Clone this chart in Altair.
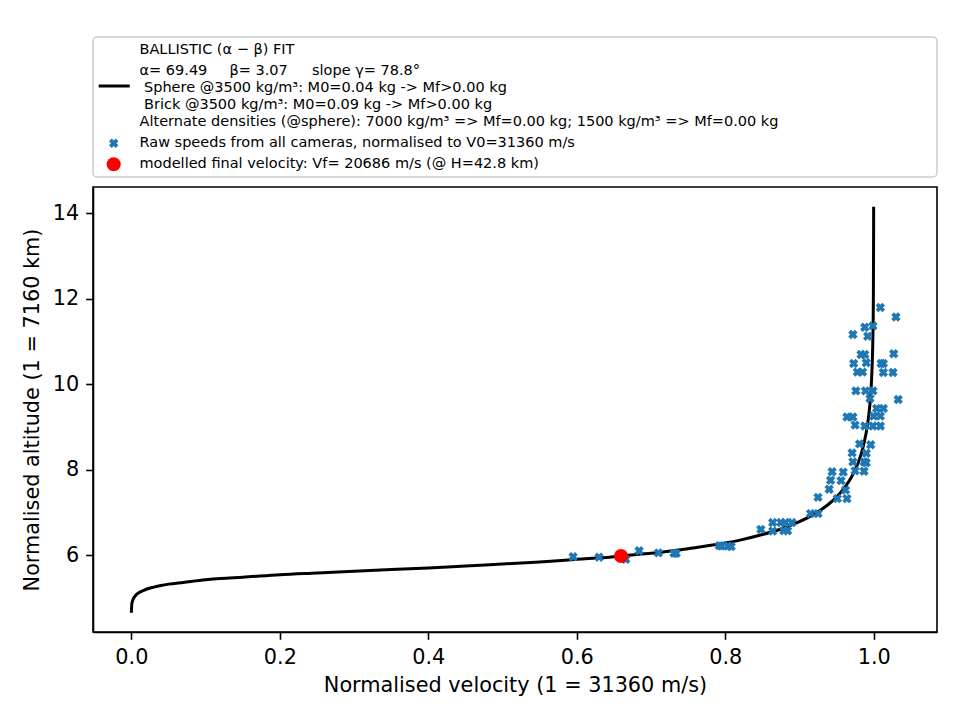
import altair as alt
import pandas as pd

# ---- data ----
curve_v = [0.0, 0.0001, 0.0005, 0.001, 0.002, 0.003, 0.005, 0.007, 0.01, 0.015, 0.02, 0.03,
           0.04, 0.05, 0.07, 0.1, 0.12, 0.15, 0.2, 0.25, 0.3, 0.35, 0.4, 0.45, 0.5, 0.55,
           0.6, 0.65, 0.66, 0.7, 0.75, 0.8, 0.82, 0.85, 0.875, 0.9, 0.915, 0.93, 0.94, 0.95,
           0.96, 0.97, 0.975, 0.98, 0.985, 0.99, 0.993, 0.996, 0.998, 0.999, 0.9995, 0.9999,
           0.99995]
curve_h = [4.65, 4.70, 4.83, 4.89, 4.95, 4.99, 5.04, 5.08, 5.12, 5.16, 5.20, 5.25,
           5.29, 5.32, 5.36, 5.42, 5.45, 5.48, 5.54, 5.58, 5.62, 5.66, 5.70, 5.745, 5.79, 5.84,
           5.90, 5.96, 5.98, 6.04, 6.15, 6.28, 6.35, 6.48, 6.61, 6.78, 6.91, 7.07, 7.20, 7.36,
           7.56, 7.82, 7.99, 8.20, 8.48, 8.87, 9.22, 9.76, 10.46, 11.15, 11.84, 13.45,
           14.15]

raw_v = [1.009, 1.030, 0.988, 0.999, 0.972, 0.992,
         0.983, 0.988, 1.027, 0.973, 0.990, 1.010, 1.013,
         0.978, 0.985, 1.013, 1.026,
         0.976, 0.989, 0.999, 1.033, 0.995,
         1.004, 1.013, 0.964, 0.972, 1.000, 1.009,
         0.975, 0.988, 0.999, 1.009,
         0.981, 0.996, 0.971, 0.990, 0.972, 0.987, 0.990,
         0.944, 0.959, 0.975, 0.987,
         0.942, 0.956, 0.940, 0.962, 0.925, 0.951, 0.964,
         0.915, 0.925, 0.864, 0.875, 0.881, 0.890, 0.848, 0.864, 0.879, 0.884,
         0.792, 0.795, 0.804, 0.808,
         0.731, 0.734, 0.710, 0.684, 0.666, 0.630, 0.595]
raw_h = [11.79, 11.57, 11.33, 11.36, 11.16, 11.12,
         10.69, 10.69, 10.71, 10.48, 10.50, 10.48, 10.48,
         10.28, 10.28, 10.27, 10.27,
         9.84, 9.84, 9.84, 9.64, 9.66,
         9.43, 9.43, 9.23, 9.23, 9.25, 9.25,
         9.04, 9.02, 9.02, 9.02,
         8.60, 8.58, 8.39, 8.38, 8.18, 8.18, 8.16,
         7.95, 7.94, 7.97, 7.96,
         7.75, 7.74, 7.54, 7.52, 7.35, 7.32, 7.32,
         6.97, 6.97, 6.76, 6.76, 6.76, 6.76, 6.60, 6.56, 6.57, 6.57,
         6.22, 6.21, 6.21, 6.20,
         6.04, 6.04, 6.05, 6.10, 5.90, 5.95, 5.96]

final_v = [0.6596]
final_h = [5.978]

x_ticks = [0.0, 0.2, 0.4, 0.6, 0.8, 1.0]
y_ticks = [6, 8, 10, 12, 14]

legend_lines = [
    "BALLISTIC (α − β) FIT",
    "α= 69.49",
    "β= 3.07",
    "slope γ= 78.8°",
    "Sphere @3500 kg/m³: M0=0.04 kg -> Mf>0.00 kg",
    "Brick @3500 kg/m³: M0=0.09 kg -> Mf>0.00 kg",
    "Alternate densities (@sphere): 7000 kg/m³ => Mf=0.00 kg; 1500 kg/m³ => Mf=0.00 kg",
    "Raw speeds from all cameras, normalised to V0=31360 m/s",
    "modelled final velocity: Vf= 20686 m/s (@ H=42.8 km)",
]

curve_df = pd.DataFrame({"v": curve_v, "h": curve_h, "i": list(range(len(curve_v)))})
raw_df = pd.DataFrame({"v": raw_v, "h": raw_h})
final_df = pd.DataFrame({"v": final_v, "h": final_h})

FONT = "DejaVu Sans"
BLUE = "#1f77b4"
FS = 20.8
LFS = 14.5

xscale = alt.Scale(domain=[-0.0517, 1.0853], nice=False, zero=False)
yscale = alt.Scale(domain=[4.20, 14.61], nice=False, zero=False)

common_axis = dict(grid=False, labelFont=FONT, labelFontSize=FS, labelColor="black",
                   tickColor="black", domainColor="black", domainWidth=1.6, tickWidth=1.6,
                   tickSize=7.3, titleFont=FONT, titleFontSize=FS, titleFontWeight="normal",
                   titleColor="black", labelFlush=False)
xaxis = alt.Axis(values=x_ticks, format=".1f", title="Normalised velocity (1 = 31360 m/s)",
                 labelPadding=8, titlePadding=8, **common_axis)
yaxis = alt.Axis(values=y_ticks, format="d", title="Normalised altitude (1 = 7160 km)",
                 labelPadding=7, titlePadding=10, **common_axis)

line = alt.Chart(curve_df).mark_line(color="black", strokeWidth=3, clip=True,
                                     interpolate="monotone").encode(
    x=alt.X("v:Q", scale=xscale, axis=xaxis),
    y=alt.Y("h:Q", scale=yscale, axis=yaxis),
    order="i:Q",
)

raw = alt.Chart(raw_df).mark_point(shape="cross", angle=45, filled=True, size=90, color=BLUE,
                                   opacity=1, strokeWidth=0).encode(
    x=alt.X("v:Q", scale=xscale), y=alt.Y("h:Q", scale=yscale))

final = alt.Chart(final_df).mark_point(shape="circle", filled=True, size=196, color="red",
                                       opacity=1, strokeWidth=0).encode(
    x=alt.X("v:Q", scale=xscale), y=alt.Y("h:Q", scale=yscale))

one = alt.Data(values=[{"a": 1}])

# legend (placed above the plot area, in pixels relative to the plot's top-left)
box = alt.Chart(one).mark_rect(fill="white", stroke="#cccccc", strokeWidth=1.5, cornerRadius=4,
                               clip=False).encode(
    x=alt.value(0), x2=alt.value(844), y=alt.value(-150), y2=alt.value(-10))


def txt(s, x, y):
    return alt.Chart(one).mark_text(text=s, align="left", baseline="middle", font=FONT,
                                    fontSize=LFS, color="black", clip=False).encode(
        x=alt.value(x), y=alt.value(y))


texts = [
    txt(legend_lines[0], 46.5, -137),
    txt(legend_lines[1], 46.5, -116.5),
    txt(legend_lines[2], 136.5, -116.5),
    txt(legend_lines[3], 219, -116.5),
    txt(legend_lines[4], 51, -98.7),
    txt(legend_lines[5], 51, -82),
    txt(legend_lines[6], 46.5, -64.7),
    txt(legend_lines[7], 46.5, -43.7),
    txt(legend_lines[8], 46.5, -22.7),
]

leg_line = alt.Chart(one).mark_rule(color="black", strokeWidth=3, clip=False).encode(
    x=alt.value(5.7), x2=alt.value(36.7), y=alt.value(-101))
leg_x = alt.Chart(one).mark_point(shape="cross", angle=45, filled=True, size=90, color=BLUE,
                                  opacity=1, strokeWidth=0, clip=False).encode(
    x=alt.value(20.7), y=alt.value(-43.7))
leg_dot = alt.Chart(one).mark_point(shape="circle", filled=True, size=196, color="red",
                                    opacity=1, strokeWidth=0, clip=False).encode(
    x=alt.value(20.7), y=alt.value(-22.7))

chart = alt.layer(line, raw, final, box, *texts, leg_line, leg_x, leg_dot).properties(
    width=844, height=445,
    autosize=alt.AutoSizeParams(type="none"),
    padding={"left": 93, "top": 187, "right": 23, "bottom": 88},
    background="white",
).configure_view(stroke="black", strokeWidth=1.6)

chart.save("out.html", embed_options={"renderer": "svg", "actions": False})
